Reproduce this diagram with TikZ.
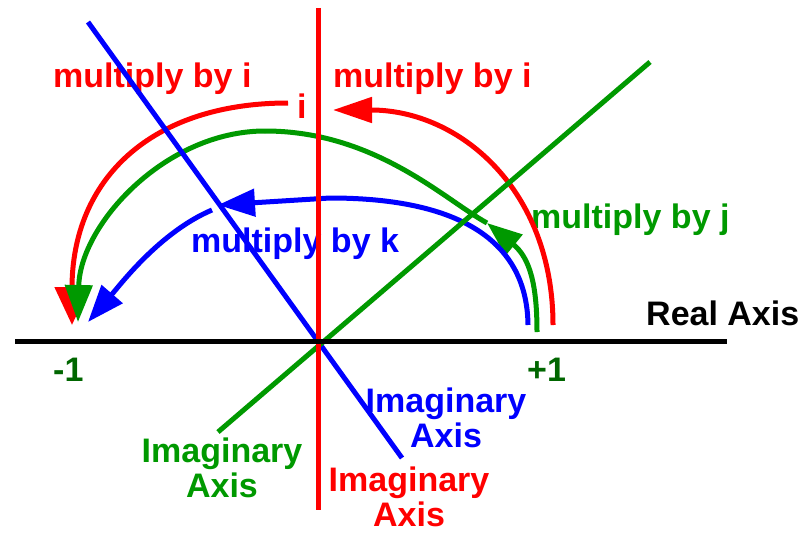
\documentclass[tikz,border=0pt]{standalone}
\usepackage{fontspec}
\setmainfont{Liberation Sans}
\usetikzlibrary{arrows.meta}
\definecolor{myred}{RGB}{255,0,0}
\definecolor{mygreen}{RGB}{0,153,0}
\definecolor{myblue}{RGB}{0,0,255}
\definecolor{darkgr}{RGB}{0,102,0}
\begin{document}
\begin{tikzpicture}[x=1pt,y=-1pt,
  lbl/.style={font=\fontsize{34}{36}\selectfont\bfseries, inner sep=0pt, anchor=base west},
  imag/.style={font=\fontsize{34}{35}\selectfont\bfseries, inner sep=0pt, anchor=north, align=center},
  thick line/.style={line width=5pt},
  arcline/.style={line width=5pt},
  bigtip/.style={-{Triangle[length=37pt,width=27pt]}},
  widetip/.style={-{Triangle[length=38pt,width=34pt]}}
]
\useasboundingbox (0,0) rectangle (805,535);
\fill[white] (0,0) rectangle (805,535);

% coordinates
\coordinate (ra1) at (15,341);
\coordinate (ra2) at (727,341);
\coordinate (iv1) at (318,8);
\coordinate (iv2) at (318,510);
\coordinate (bd1) at (88,22);
\coordinate (bd2) at (402,458);
\coordinate (gd1) at (650,62);
\coordinate (gd2) at (218,432);

% labels
\node[lbl, text=myred] (mi1) at (53,87) {multiply by i};
\node[lbl, text=myred] (mi2) at (333,87) {multiply by i};
\node[lbl, text=myred] (ilab) at (297,118) {i};
\node[lbl, text=mygreen] (mj) at (531,228) {multiply by j};
\node[lbl, text=myblue] (mk) at (191,252) {multiply by k};
\node[lbl] (real) at (646,325) {Real Axis};
\node[lbl, text=darkgr] (m1) at (53,381) {-1};
\node[lbl, text=darkgr] (p1) at (527,381) {+1};
\node[imag, text=mygreen] (gi) at (222,438) {Imaginary\\Axis};
\node[imag, text=myblue] (bi) at (446,388) {Imaginary\\Axis};
\node[imag, text=myred] (ri) at (409,467) {Imaginary\\Axis};

% arc end points
\coordinate (rR) at (553,325);
\coordinate (rT) at (333,110);
\coordinate (rT2) at (288,103);
\coordinate (rL) at (72,325);
\coordinate (gR) at (537,332);
\coordinate (gM) at (487,223);
\coordinate (gT) at (265,131);
\coordinate (gL) at (78,322);
\coordinate (bR) at (528,325);
\coordinate (bT) at (330,198);
\coordinate (bA) at (218,205);
\coordinate (bA2) at (212,210);
\coordinate (bL) at (88,322);

% red arc
\draw[arcline, myred, -{Triangle[length=39pt,width=25pt]}]
  (rR) .. controls (553,190) and (460,110) .. (rT);
\draw[arcline, myred, widetip] (rT2) .. controls (150,103) and (72,180) .. (rL);

% green arc
\draw[arcline, mygreen, -{Triangle[length=35pt,width=26pt]}]
  (gR) .. controls (537,285) and (530,258) .. (gM);
\draw[arcline, mygreen] (gM) .. controls (445,200) and (375,131) .. (gT);
\draw[arcline, mygreen, bigtip] (gT) .. controls (165,131) and (80,225) .. (gL);

% blue arc
\draw[arcline, myblue, bigtip]
  (bR) .. controls (527,235) and (450,198) .. (bT) -- (bA);
\draw[arcline, myblue, bigtip] (bA2) .. controls (160,232) and (120,285) .. (bL);

% axes
\draw[thick line, myblue] (bd1) -- (bd2);
\draw[thick line, mygreen] (gd1) -- (gd2);
\draw[thick line, myred] (iv1) -- (iv2);
\draw[thick line, black] (ra1) -- (ra2);
\end{tikzpicture}
\end{document}
